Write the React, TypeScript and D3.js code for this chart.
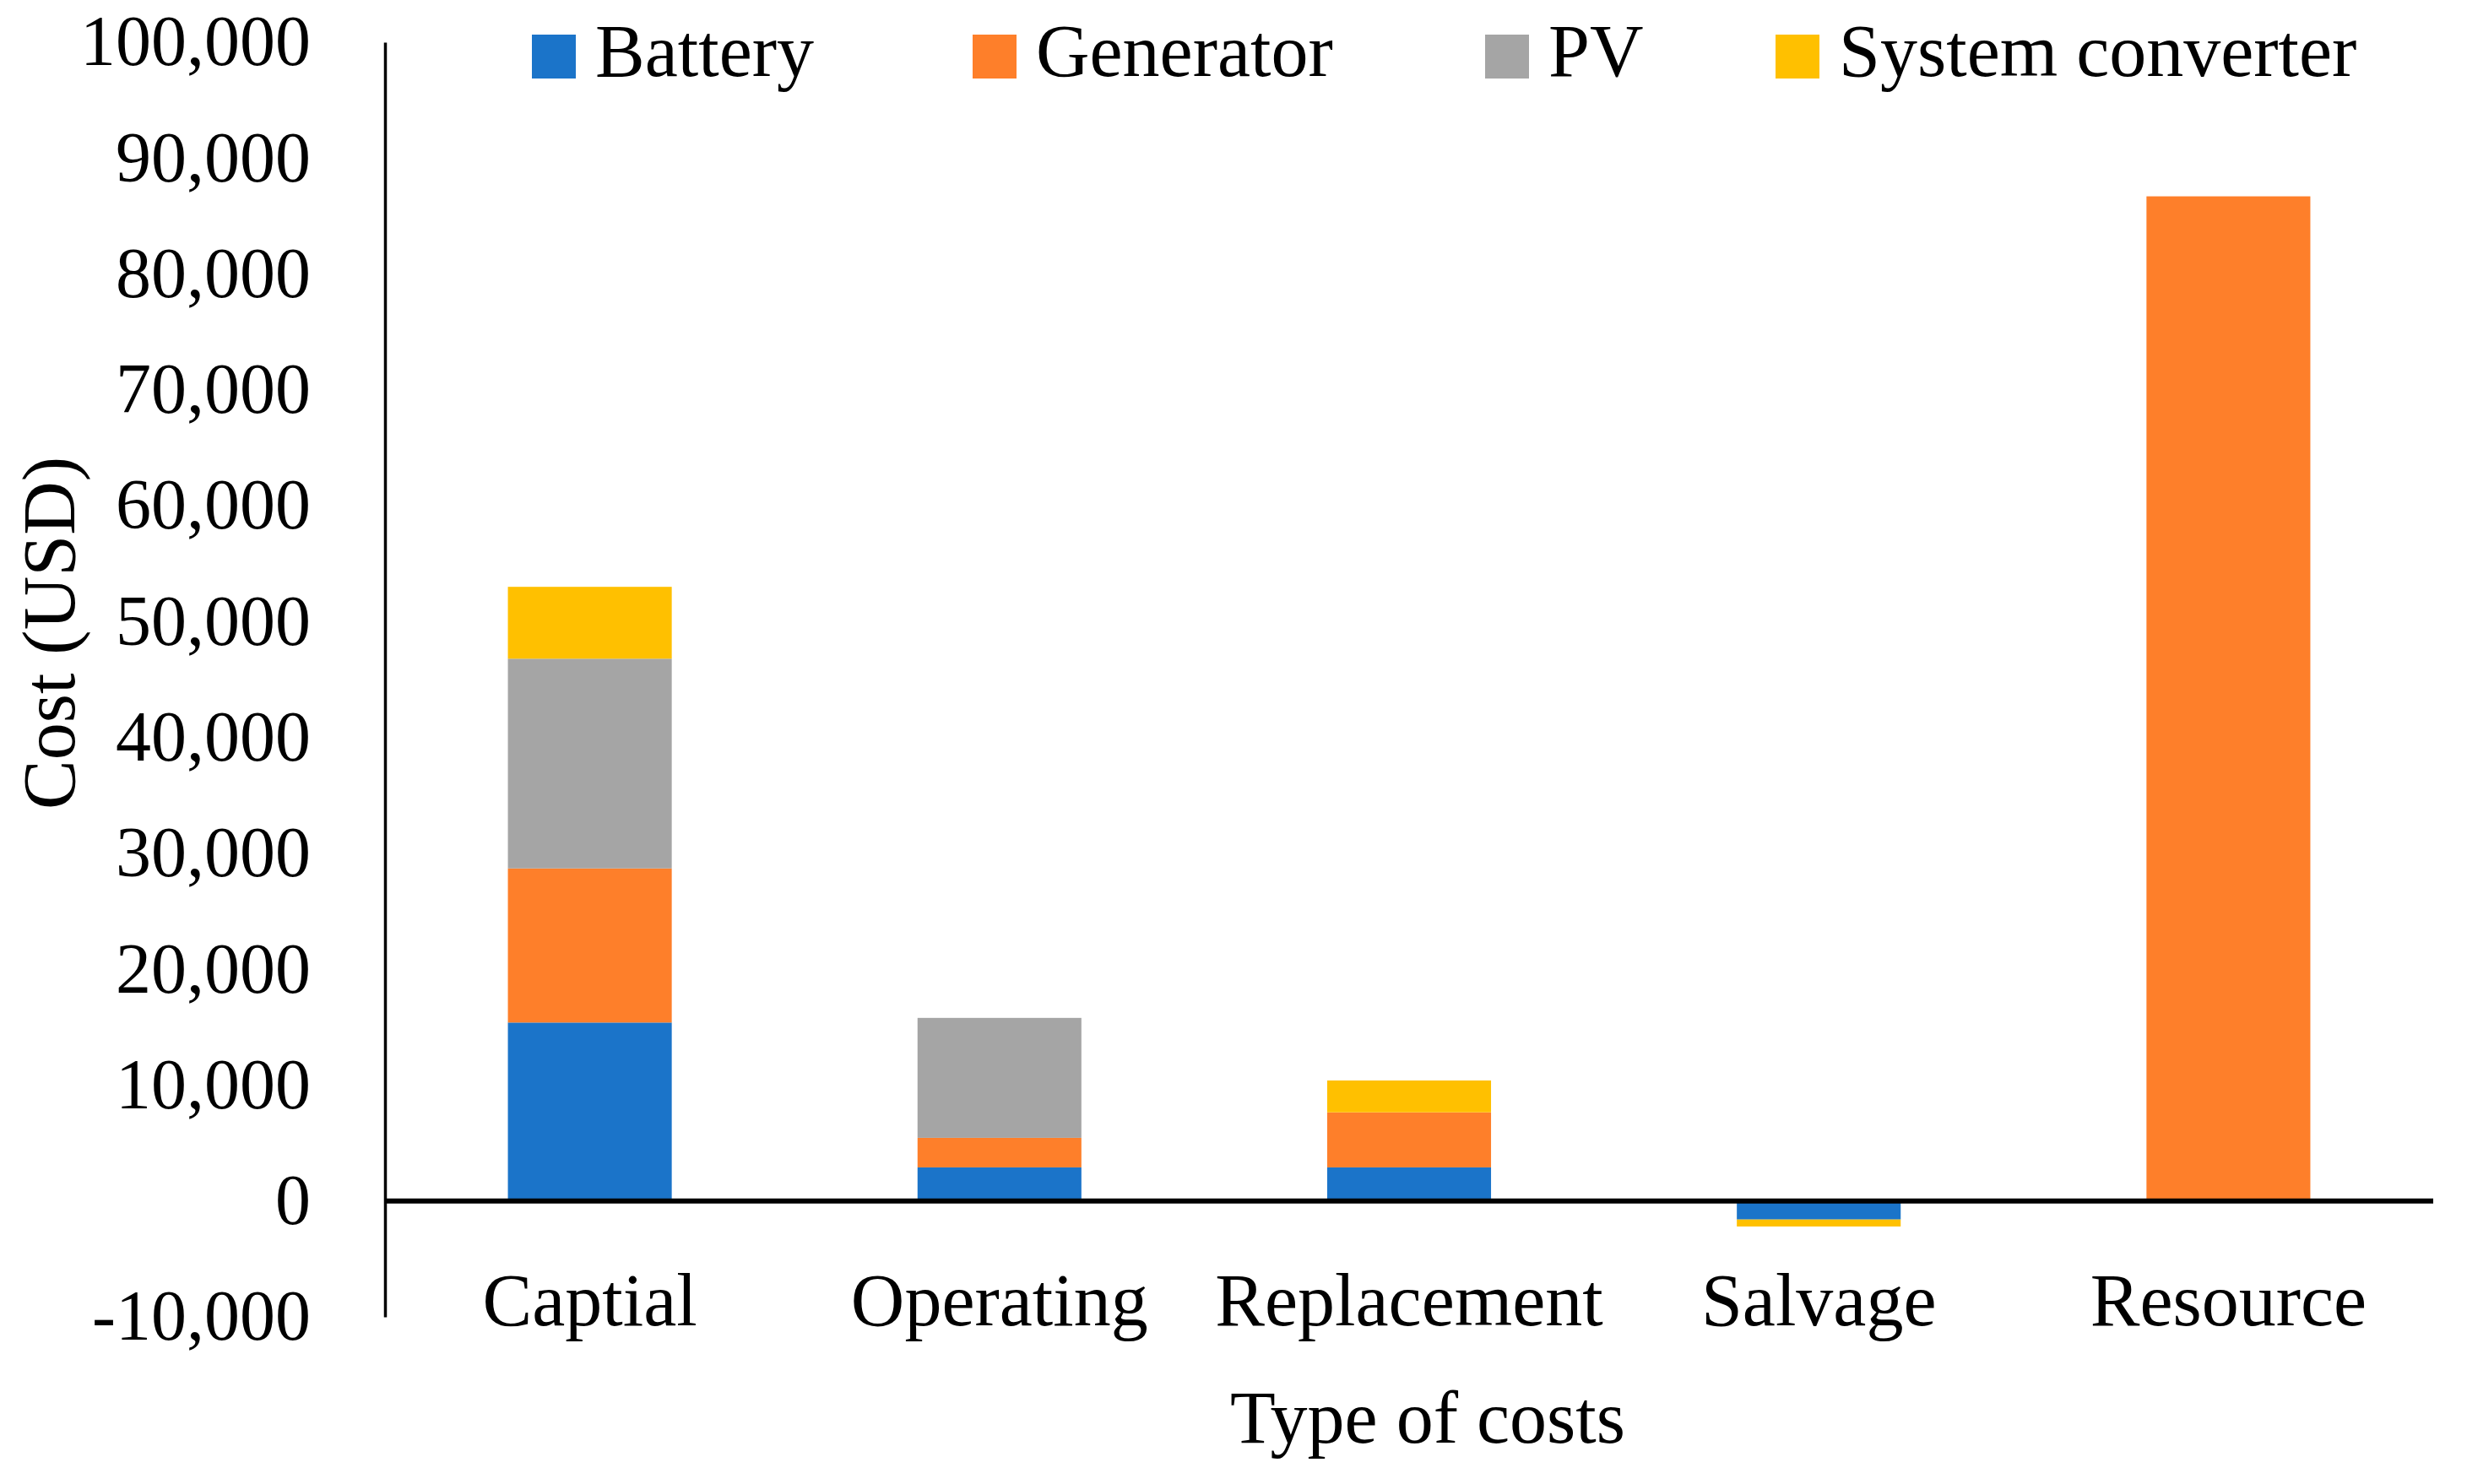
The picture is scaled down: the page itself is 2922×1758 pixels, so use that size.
import { useEffect, useRef } from "react";
import * as d3 from "d3";

// Données
const categories = ["Captial", "Operating", "Replacement", "Salvage", "Resource"];
const seriesNames = ["Battery", "Generator", "PV", "System converter"];
const battery = [15400, 2900, 2900, -1600, 0];
const generator = [13300, 2550, 4750, 0, 86700];
const pv = [18100, 10350, 0, 0, 0];
const converter = [6200, 0, 2750, -600, 0];
const yTicks = [-10000, 0, 10000, 20000, 30000, 40000, 50000, 60000, 70000, 80000, 90000, 100000];
const colors = ["#1b74c9", "#fe7f2a", "#a5a5a5", "#ffc000"];

const WIDTH = 2922;
const HEIGHT = 1758;
const FONT = "'Liberation Serif', 'DejaVu Serif', serif";

export default function App() {
  const svgRef = useRef<SVGSVGElement>(null);

  useEffect(() => {
    if (!svgRef.current) return;
    const svg = d3.select(svgRef.current);
    svg.selectAll("*").remove();

    const margin = { top: 50, right: 40, bottom: 198, left: 456 };
    const plotRight = WIDTH - margin.right;

    const rows = categories.map((c, i) => ({
      category: c,
      Battery: battery[i],
      Generator: generator[i],
      PV: pv[i],
      "System converter": converter[i],
    }));

    const stacked = d3
      .stack<any>()
      .keys(seriesNames)
      .offset(d3.stackOffsetDiverging)(rows);

    const x = d3
      .scaleBand()
      .domain(categories)
      .range([margin.left, plotRight])
      .paddingInner(0.6)
      .paddingOuter(0.3);

    const y = d3
      .scaleLinear()
      .domain([-10000, 100000])
      .range([HEIGHT - margin.bottom, margin.top]);

    const locale = d3.formatLocale({
      decimal: ".",
      thousands: ",",
      grouping: [3],
      currency: ["$", ""],
      minus: "-",
    });
    const fmt = locale.format(",");

    // Barres empilées
    svg
      .append("g")
      .selectAll("g")
      .data(stacked)
      .enter()
      .append("g")
      .attr("fill", (_, i) => colors[i])
      .selectAll("rect")
      .data((d) => d)
      .enter()
      .append("rect")
      .attr("x", (d: any) => x(d.data.category) || 0)
      .attr("width", x.bandwidth())
      .attr("y", (d) => y(Math.max(d[0], d[1])))
      .attr("height", (d) => Math.abs(y(d[0]) - y(d[1])));

    // Axe Y
    const yAxis = svg
      .append("g")
      .attr("transform", `translate(${margin.left},0)`)
      .call(d3.axisLeft(y).tickValues(yTicks).tickSize(0).tickPadding(88).tickFormat((d) => fmt(d as number)));
    yAxis.select(".domain").attr("stroke", "#000").attr("stroke-width", 3.5);
    yAxis
      .selectAll("text")
      .attr("fill", "#000")
      .style("font-family", FONT)
      .style("font-size", "84px");

    // Ligne du zéro
    svg
      .append("line")
      .attr("x1", margin.left)
      .attr("x2", plotRight)
      .attr("y1", y(0))
      .attr("y2", y(0))
      .attr("stroke", "#000")
      .attr("stroke-width", 6);

    // Libellés des catégories
    svg
      .append("g")
      .selectAll("text")
      .data(categories)
      .enter()
      .append("text")
      .attr("x", (d) => (x(d) || 0) + x.bandwidth() / 2)
      .attr("y", 1570)
      .attr("text-anchor", "middle")
      .style("font-family", FONT)
      .style("font-size", "88px")
      .text((d) => d);

    // Titres des axes
    svg
      .append("text")
      .attr("x", 1691)
      .attr("y", 1709)
      .attr("text-anchor", "middle")
      .style("font-family", FONT)
      .style("font-size", "88px")
      .text("Type of costs");

    svg
      .append("text")
      .attr("transform", `translate(88,750) rotate(-90)`)
      .attr("text-anchor", "middle")
      .style("font-family", FONT)
      .style("font-size", "88px")
      .text("Cost (USD)");

    // Légende
    const legendX = [630, 1152, 1759, 2103];
    const legend = svg
      .append("g")
      .selectAll("g")
      .data(seriesNames)
      .enter()
      .append("g")
      .attr("transform", (_, i) => `translate(${legendX[i]},0)`);
    legend
      .append("rect")
      .attr("x", 0)
      .attr("y", 41)
      .attr("width", 52)
      .attr("height", 52)
      .attr("fill", (_, i) => colors[i]);
    legend
      .append("text")
      .attr("x", 75)
      .attr("y", 90)
      .style("font-family", FONT)
      .style("font-size", "88px")
      .text((d) => d);
  }, []);

  return (
    <svg
      ref={svgRef}
      width={WIDTH}
      height={HEIGHT}
      style={{ position: "absolute", left: 0, top: 0, background: "#fff" }}
    />
  );
}
